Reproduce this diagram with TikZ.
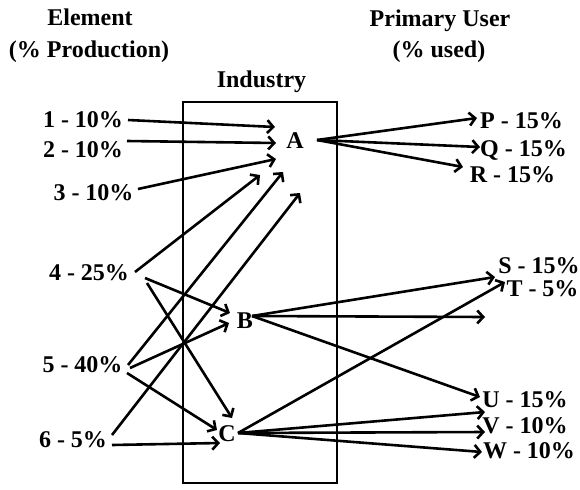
\documentclass[tikz,border=0pt]{standalone}
\usepackage{fontspec}
\setmainfont{Liberation Serif}
\usetikzlibrary{arrows.meta,calc}
\begin{document}
\begin{tikzpicture}[x=0.5pt,y=-0.5pt,
    lbl/.style={font=\fontsize{12}{14}\selectfont\bfseries, anchor=base, inner sep=0pt},
    arr/.style={-{Straight Barb[length=3pt,width=6.5pt]}, line width=1.3pt}]
    \useasboundingbox (0,0) rectangle (580,489);
    % headings
    \node[lbl] (hel) at (90,25) {Element};
    \node[lbl] (hpr) at (89,57) {(\% Production)};
    \node[lbl] (hin) at (261.5,87) {Industry};
    \node[lbl] (hpu) at (440,26) {Primary User};
    \node[lbl] (hus) at (439,57) {(\% used)};
    \draw[line width=1.4pt] (183,102) rectangle (337,483);
    % elements
    \node[lbl] (e1) at (83,127) {1 - 10\%};
    \node[lbl] (e2) at (83,157) {2 - 10\%};
    \node[lbl] (e3) at (93.5,200) {3 - 10\%};
    \node[lbl] (e4) at (89,280) {4 - 25\%};
    \node[lbl] (e5) at (82.5,372) {5 - 40\%};
    \node[lbl] (e6) at (73,447) {6 - 5\%};
    % industries
    \node[lbl] (A) at (295,148) {A};
    \node[lbl] (B) at (245,328) {B};
    \node[lbl] (C) at (227,441) {C};
    % users
    \node[lbl] (P) at (521.5,128) {P - 15\%};
    \node[lbl] (Q) at (523.5,156) {Q - 15\%};
    \node[lbl] (R) at (512.5,182) {R - 15\%};
    \node[lbl] (S) at (539,273) {S - 15\%};
    \node[lbl] (T) at (542.5,296) {T - 5\%};
    \node[lbl] (U) at (525,407) {U - 15\%};
    \node[lbl] (V) at (525,433) {V - 10\%};
    \node[lbl] (W) at (529,458) {W - 10\%};
    \coordinate (Bx) at (485,317);
    % into A
    \draw[arr] ($(e1.base)+(45,-7)$) -- ($(A.base)+(-20,-21)$);
    \draw[arr] ($(e2.base)+(44,-16)$) -- ($(A.base)+(-19,-5)$);
    \draw[arr] ($(e3.base)+(44.5,-11)$) -- ($(A.base)+(-19,11)$);
    \draw[arr] ($(e4.base)+(46,-8)$) -- ($(A.base)+(-35,27)$);
    \draw[arr] ($(e5.base)+(45.5,-7)$) -- ($(A.base)+(-12,24)$);
    \draw[arr] ($(e6.base)+(39,-12)$) -- ($(A.base)+(5,45)$);
    % into B and C
    \draw[arr] ($(e4.base)+(56,-2)$) -- ($(B.base)+(-15,-15)$);
    \draw[arr] ($(e5.base)+(47.5,-4)$) -- ($(B.base)+(-16,-5)$);
    \draw[arr] ($(e4.base)+(58,3)$) -- ($(C.base)+(5,-23)$);
    \draw[arr] ($(e5.base)+(44.5,1)$) -- ($(C.base)+(-10,-11)$);
    \draw[arr] ($(e6.base)+(39,-2)$) -- ($(C.base)+(-7,2)$);
    % out of A
    \draw[arr] ($(A.base)+(22,-8)$) -- ($(P.base)+(-44.5,-10)$);
    \draw[arr] ($(A.base)+(22,-8)$) -- ($(Q.base)+(-43.5,-9)$);
    \draw[arr] ($(A.base)+(22,-8)$) -- ($(R.base)+(-49.5,-15)$);
    % out of B
    \draw[arr] ($(B.base)+(7,-12)$) -- ($(S.base)+(-44,4)$);
    \draw[arr] ($(B.base)+(7,-12)$) -- (Bx);
    \draw[arr] ($(B.base)+(7,-12)$) -- ($(U.base)+(-45,-10)$);
    % out of C
    \draw[arr] ($(C.base)+(11,-8)$) -- ($(T.base)+(-37.5,-14)$);
    \draw[arr] ($(C.base)+(11,-8)$) -- ($(U.base)+(-40,5)$);
    \draw[arr] ($(C.base)+(11,-8)$) -- ($(V.base)+(-40,-1)$);
    \draw[arr] ($(C.base)+(11,-8)$) -- ($(W.base)+(-47,-6)$);
\end{tikzpicture}
\end{document}
